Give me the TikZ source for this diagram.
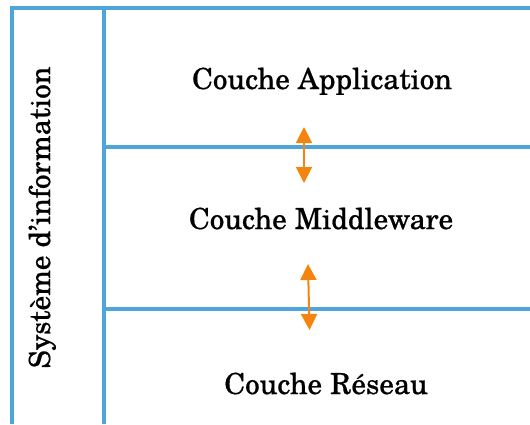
\documentclass[tikz,border=0pt]{standalone}
\usepackage{fontspec}
\setmainfont[FakeBold=0.6]{TeX Gyre Schola}
\usetikzlibrary{arrows.meta}
\definecolor{rule}{HTML}{4EA5DA}
\definecolor{flow}{HTML}{F5840E}
\tikzset{
  frameline/.style={draw=rule, line width=4pt},
  layerlabel/.style={font=\fontsize{29}{32}\selectfont, anchor=base, inner sep=0pt},
  exchange/.style={draw=flow, line width=2pt, {Triangle[width=16pt,length=16pt]}-{Triangle[width=16pt,length=16pt]}}
}
\begin{document}
\begin{tikzpicture}[x=1pt, y=-1pt]
  \useasboundingbox (0,0) rectangle (530,424);
  % frame corners and layer boundaries
  \coordinate (tl) at (10,8);
  \coordinate (tr) at (530,8);
  \coordinate (outerTop) at (12,6);
  \coordinate (outerBot) at (12,424);
  \coordinate (innerTop) at (104,8);
  \coordinate (innerBot) at (104,424);
  \coordinate (b1l) at (102,147);
  \coordinate (b1r) at (530,147);
  \coordinate (b2l) at (102,308.5);
  \coordinate (b2r) at (530,308.5);
  % frame
  \draw[frameline] (tl) -- (tr);
  \draw[frameline] (outerTop) -- (outerBot);
  \draw[frameline] (innerTop) -- (innerBot);
  \draw[frameline] (b1l) -- (b1r);
  \draw[frameline] (b2l) -- (b2r);
  % labels
  \node[layerlabel] (app) at (322,89) {Couche Application};
  \node[layerlabel] (mid) at (321,229) {Couche Middleware};
  \node[layerlabel] (net) at (326,394) {Couche Réseau};
  \node[layerlabel, rotate=90] (sys) at (50,217.5) {Système d’information};
  % exchanges between layers
  \coordinate (a1) at (304,127);
  \coordinate (a2) at (304,183);
  \coordinate (a3) at (308,264);
  \coordinate (a4) at (309.5,330);
  \draw[exchange] (a1) -- (a2);
  \draw[exchange] (a3) -- (a4);
\end{tikzpicture}
\end{document}
